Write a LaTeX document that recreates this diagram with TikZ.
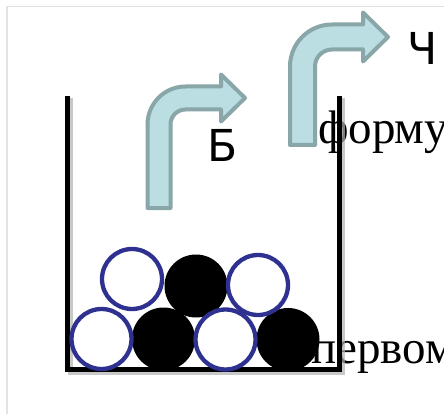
\documentclass[tikz,border=0pt]{standalone}
\usepackage{fontspec}
\setmainfont{Liberation Serif}
\newfontfamily\labelfont{DejaVu Sans}
\definecolor{arrowfill}{RGB}{187,222,226}
\definecolor{arrowedge}{RGB}{137,166,168}
\definecolor{ballblue}{RGB}{46,49,143}
\definecolor{framegray}{RGB}{226,226,226}
\tikzset{
  arrowstyle/.style={draw=arrowedge,fill=arrowfill,line width=4pt,line join=round},
  whiteball/.style={circle,draw=ballblue,fill=white,line width=4.3pt,minimum size=60pt,inner sep=0pt},
  blackball/.style={circle,fill=black,minimum size=63pt,inner sep=0pt},
  serifword/.style={inner sep=0pt,anchor=base west,font=\fontsize{47}{50}\selectfont},
  letterlabel/.style={inner sep=0pt,anchor=base west,font=\labelfont\fontsize{44}{48}\selectfont},
  wall/.style={line width=4.7pt,line join=miter,line cap=rect},
}
% L w B T X h Xt R
\newcommand\bentarrow[8]{%
  \pgfmathsetmacro\barr{#8-#2}%
  \draw[arrowstyle] (#1,#3) -- (#1,{#4+#8})
    .. controls (#1,{#4+0.4477*#8}) and ({#1+0.4477*#8},#4) .. ({#1+#8},#4)
    -- (#5,#4) -- (#5,{#4+#2/2-#6}) -- (#7,{#4+#2/2}) -- (#5,{#4+#2/2+#6})
    -- (#5,{#4+#2}) -- ({#1+#2+\barr},{#4+#2})
    .. controls ({#1+#2+0.4477*\barr},{#4+#2}) and ({#1+#2},{#4+#2+0.4477*\barr}) .. ({#1+#2},{#4+#2+\barr})
    -- ({#1+#2},#3) -- cycle;}
\begin{document}
\begin{tikzpicture}[x=1pt,y=-1pt]
\clip (0,0) rectangle (444,414);
\fill[white] (0,0) rectangle (444,414);
% frame
\draw[framegray,line width=1.5pt] (7,414) -- (7,6.5) -- (444,6.5);
% texts behind
\node[serifword] (formula) at (318,144) {формул};
\node[serifword] (first) at (311,363) {первом};
% container shadow
\draw[wall,black!30,opacity=0.7] (70.5,100) -- (70.5,372.5) -- (342.7,372.5) -- (342.7,100);
% container
\draw[wall] (67.5,98) -- (67.5,369.5) -- (339.7,369.5) -- (339.7,98);
% balls
\node[blackball] (b1) at (163.5,339) {};
\node[blackball] (b2) at (196,286) {};
\node[blackball] (b3) at (288,339.5) {};
\node[whiteball] (w1) at (101.5,339) {};
\node[whiteball] (w2) at (132,279) {};
\node[whiteball] (w3) at (225.5,339.5) {};
\node[whiteball] (w4) at (258,285) {};
% arrows
\bentarrow{147.5}{23}{208}{86.5}{221}{23.5}{245}{38}
\bentarrow{290}{25}{145}{24.5}{363}{24.5}{388}{42}
% labels
\node[letterlabel] (lb) at (207.5,162) {Б};
\node[letterlabel] (lch) at (407,65) {Ч};
\end{tikzpicture}
\end{document}
